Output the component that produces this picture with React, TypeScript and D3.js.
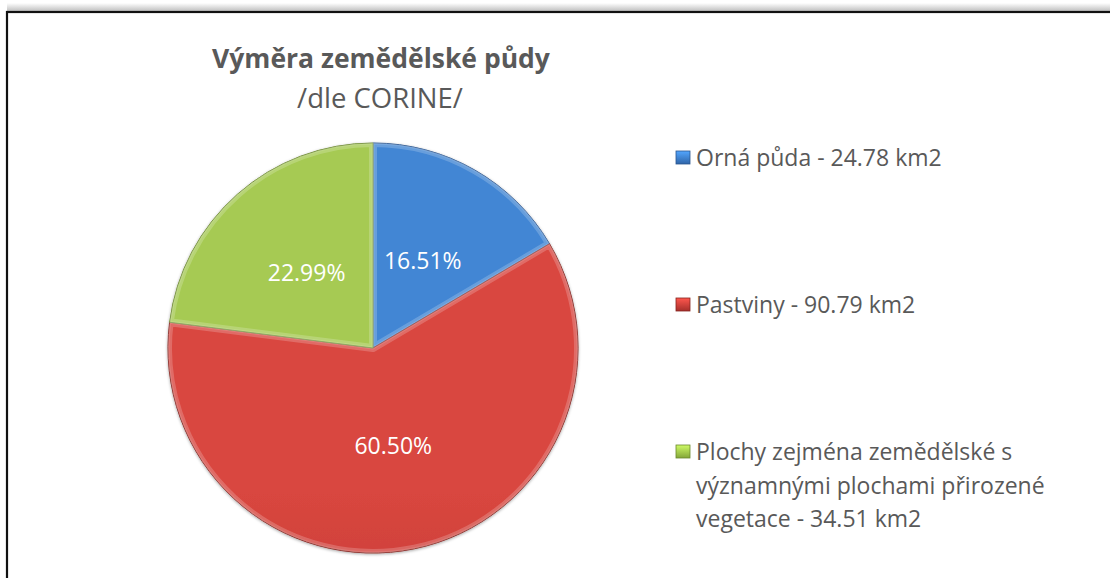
import React from "react";
import * as d3 from "d3";

const categories = ["Orná půda", "Pastviny", "Plochy zejména zemědělské s významnými plochami přirozené vegetace"];
const values = [24.78, 90.79, 34.51];
const percentLabels = ["16.51%", "60.50%", "22.99%"];
const legendLines = [
  ["Orná půda - 24.78 km2"],
  ["Pastviny - 90.79 km2"],
  ["Plochy zejména zemědělské s", "významnými plochami přirozené", "vegetace - 34.51 km2"],
];
const colorsTop = ["#4386d4", "#d9463f", "#a6ca52"];
const colorsBottom = ["#2f65a8", "#a62f2b", "#84a639"];
const edgeColors = ["#2a5690", "#86241f", "#6a882c"];
const title = "Výměra zemědělské půdy";
const subtitle = "/dle CORINE/";

const W = 1110;
const H = 578;
const cx = 373;
const cy = 348;
const R = 205;
const FONT = "'Open Sans', 'Noto Sans', sans-serif";

export default function App() {
  const pie = d3.pie<number>().sort(null).value((d) => d)(values);
  const arc = d3.arc<d3.PieArcDatum<number>>().innerRadius(0).outerRadius(R);
  const labelArc = d3.arc<d3.PieArcDatum<number>>().innerRadius(0).outerRadius(R * 0.98);

  const legendY = [158, 305, 452];
  const lineH = 33.5;

  return (
    <svg width={W} height={H} style={{ position: "absolute", left: 0, top: 0, background: "#fff" }}>
      <defs>
        <linearGradient id="topShadow" x1="0" y1="0" x2="0" y2="1">
          <stop offset="0" stopColor="#ffffff" />
          <stop offset="1" stopColor="#b8b8b8" />
        </linearGradient>
        {values.map((_, i) => (
          <linearGradient key={i} id={`g${i}`} gradientUnits="userSpaceOnUse" x1={0} y1={cy - R} x2={0} y2={cy + R}>
            <stop offset="0" stopColor={colorsTop[i]} />
            <stop offset="1" stopColor={colorsBottom[i]} />
          </linearGradient>
        ))}
        {values.map((_, i) => (
          <linearGradient key={"m" + i} id={`m${i}`} x1="0" y1="0" x2="0" y2="1">
            <stop offset="0" stopColor={d3.color(colorsTop[i])!.brighter(0.6).formatHex()} />
            <stop offset="1" stopColor={colorsBottom[i]} />
          </linearGradient>
        ))}
        {pie.map((p, i) => (
          <clipPath key={"c" + i} id={`clip${i}`}>
            <path d={arc(p) || ""} transform={`translate(${cx},${cy})`} />
          </clipPath>
        ))}
        <filter id="pieShadow" x="-10%" y="-10%" width="120%" height="120%">
          <feDropShadow dx="0" dy="1" stdDeviation="1.5" floodColor="#000" floodOpacity="0.35" />
        </filter>
      </defs>

      {/* frame */}
      <rect x={7} y={3} width={W} height={9} fill="url(#topShadow)" />
      <rect x={7} y={12} width={W + 20} height={H + 20} fill="#fff" stroke="#111" strokeWidth={2.2} />

      {/* title */}
      <text x={381} y={68} textAnchor="middle" fontFamily={FONT} fontWeight={700} fontSize={26.5} fill="#595959">
        {title}
      </text>
      <text x={380} y={108} textAnchor="middle" fontFamily={FONT} fontSize={27.5} fill="#595959">
        {subtitle}
      </text>

      {/* pie */}
      <g transform={`translate(${cx},${cy})`} filter="url(#pieShadow)">
        {pie.map((p, i) => (
          <path key={i} d={arc(p) || ""} fill={`url(#g${i})`} stroke={edgeColors[i]} strokeWidth={1} />
        ))}
      </g>
      {pie.map((p, i) => (
        <g key={"b" + i} clipPath={`url(#clip${i})`}>
          <path
            d={arc(p) || ""}
            transform={`translate(${cx},${cy})`}
            fill="none"
            stroke="#ffffff"
            strokeOpacity={0.2}
            strokeWidth={8}
            strokeLinejoin="round"
          />
          <path
            d={arc(p) || ""}
            transform={`translate(${cx},${cy})`}
            fill="none"
            stroke="#ffffff"
            strokeOpacity={0.12}
            strokeWidth={3}
            strokeLinejoin="round"
          />
        </g>
      ))}
      {pie.map((p, i) => {
        const [x, y] = labelArc.centroid(p);
        return (
          <text
            key={"l" + i}
            x={cx + x}
            y={cy + y}
            dy="0.35em"
            textAnchor="middle"
            fontFamily={FONT}
            fontSize={23}
            fill="#ffffff"
          >
            {percentLabels[i]}
          </text>
        );
      })}

      {/* legend */}
      {categories.map((c, i) => (
        <g key={"lg" + i}>
          <rect x={676} y={legendY[i] - 7} width={14} height={13} fill={`url(#m${i})`} stroke={edgeColors[i]} strokeWidth={0.8} />
          {legendLines[i].map((ln, j) => (
            <text
              key={j}
              x={696}
              y={legendY[i] + j * lineH}
              dy="0.35em"
              fontFamily={FONT}
              fontSize={23}
              fill="#595959"
            >
              {ln}
            </text>
          ))}
        </g>
      ))}
    </svg>
  );
}
